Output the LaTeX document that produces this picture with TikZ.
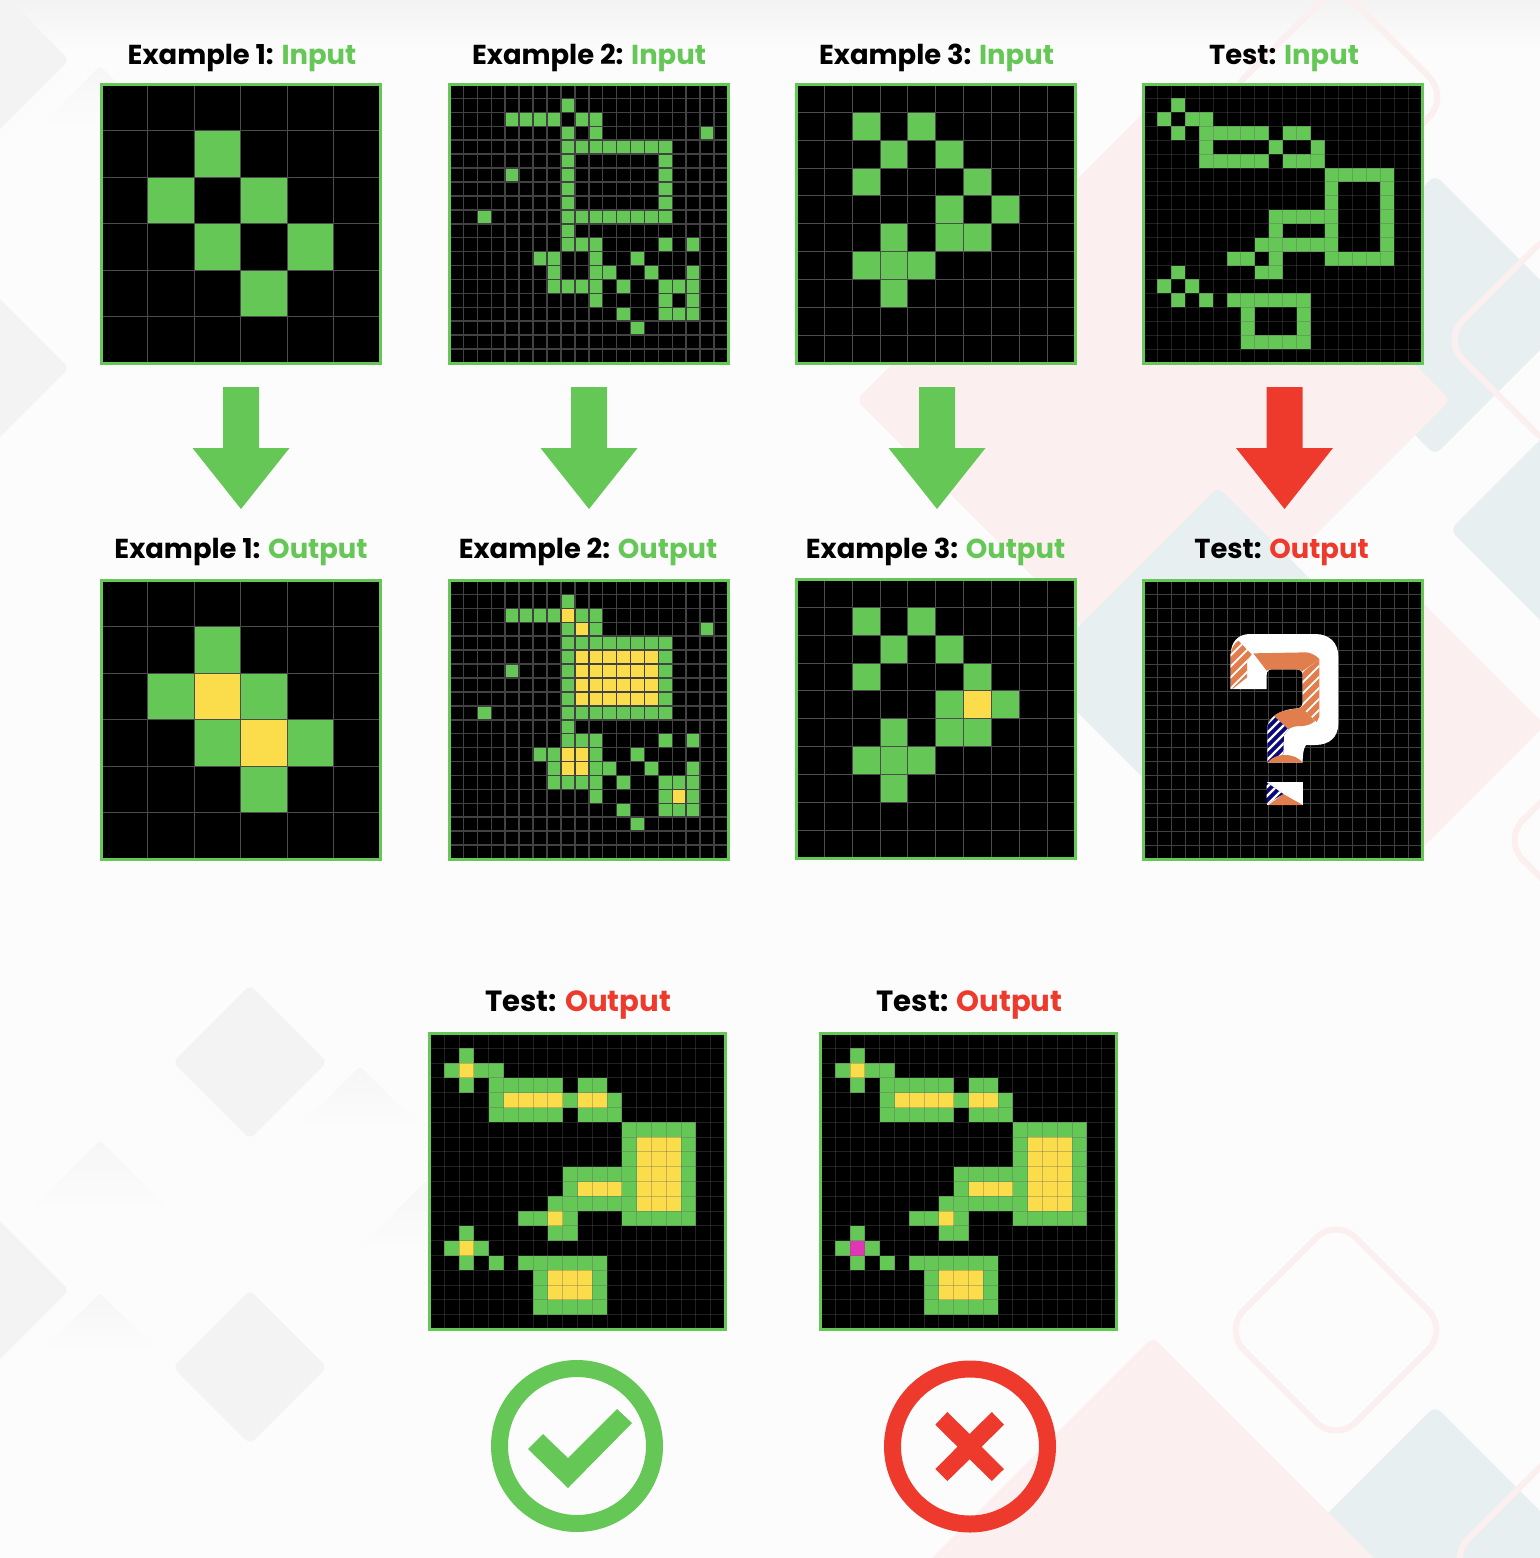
\documentclass[tikz,border=0pt]{standalone}
\usepackage{fontspec}
\setmainfont{Poppins}
\definecolor{gridgreen}{HTML}{65C756}
\definecolor{gridyellow}{HTML}{FBDC4A}
\definecolor{gridred}{HTML}{EE3A2D}
\definecolor{gridmagenta}{HTML}{E035B5}
\definecolor{markorange}{HTML}{E07F4D}
\definecolor{marknavy}{HTML}{0A0A7A}
\definecolor{pagebg}{HTML}{FCFCFC}
\definecolor{softgray}{HTML}{F3F3F3}
\definecolor{softpink}{HTML}{FBEFEF}
\definecolor{softblue}{HTML}{E8EFF1}
\tikzset{
	titlelabel/.style={anchor=base,font=\fontsize{13.7}{16}\selectfont\bfseries},
	bigtitle/.style={anchor=base,font=\fontsize{14.6}{17}\selectfont\bfseries},
	boardframe/.style={draw=gridgreen,line width=1.5pt},
	coarseline/.style={draw=black!70,line width=0.55pt},
	denseline/.style={draw=black!74,line width=0.75pt},
	fineline/.style={draw=black!75,line width=0.5pt},
	paleline/.style={draw=black!62,draw opacity=0.35,line width=0.5pt},
	graydiamond/.style={fill=softgray,rounded corners=3pt},
	pinkdiamond/.style={fill=softpink,rounded corners=4pt},
	bluediamond/.style={fill=softblue,rounded corners=4pt},
	ringdiamond/.style={draw=softpink,line width=3pt,rounded corners=14pt},
	signring/.style={line width=8.5pt}
}
% s = board size, n = cells per side
\newcommand{\gridcells}[4]{%
	\pgfmathsetmacro\cellw{#1/#2}
	\edef\celllist{#4}
	\foreach \rowi/\cols in \celllist {
		\foreach \coli in \cols {
			\fill[#3] ({\coli*\cellw},{\rowi*\cellw}) rectangle ++(\cellw,\cellw);
		}
	}
}
\newcommand{\gridlines}[3]{%
	\pgfmathsetmacro\cellw{#1/#2}
	\pgfmathtruncatemacro\lastline{#2-1}
	\foreach \i in {1,...,\lastline} {
		\draw[#3] ({\i*\cellw},0) -- ({\i*\cellw},#1);
		\draw[#3] (0,{\i*\cellw}) -- (#1,{\i*\cellw});
	}
	\draw[boardframe] (0,0) rectangle (#1,#1);
}
\newcommand{\softdiamond}[4]{\path[#4] ({#1-#3},#2) -- (#1,{#2-#3}) -- ({#1+#3},#2) -- (#1,{#2+#3}) -- cycle;}
\newcommand{\fadepeak}[3]{\shade[top color=softgray!70!pagebg,bottom color=pagebg,rounded corners=2pt] (#1,#2) -- ({#1+#3},{#2+#3}) -- ({#1-#3},{#2+#3}) -- cycle;}
\newcommand{\blockarrow}[2]{\fill[#2] ({#1-18},387) -- ({#1+18},387) -- ({#1+18},448) -- ({#1+48.5},448) -- (#1,509) -- ({#1-48.5},448) -- ({#1-18},448) -- cycle;}
\newcommand{\hatchpatch}[4]{%
	\begin{scope}
		\clip #1;
		\fill[#2] (0,0) rectangle (520,600);
		\foreach \d in {0,#3,...,1100} {
			\draw[white,line width=#4] (0,\d) -- (\d,0);
		}
	\end{scope}
}
\newcommand{\exaOneCells}{1/{2},2/{1,3},3/{2,4},4/{3}}
\newcommand{\exaTwoCells}{1/{8},2/{4,5,6,7,9,10},3/{8,10,18},4/{8,...,15},5/{8,15},6/{4,8,15},7/{8,15},8/{8,15},9/{2,8,9,10,11,12,13,14,15},10/{8},11/{8,9,10,15,17},12/{6,7,10,13},13/{7,10,11,14,17},14/{7,8,9,10,12,15,16,17},15/{10,15,17},16/{12,15,16,17},17/{13}}
\newcommand{\exaThreeCells}{1/{2,4},2/{3,5},3/{2,6},4/{5,7},5/{3,5,6},6/{2,3,4},7/{3}}
\newcommand{\testCells}{1/{2},2/{1,3,4},3/{2,4,5,6,7,8,10,11},4/{4,9,12},5/{4,5,6,7,8,10,11,12},6/{13,...,17},7/{13,17},8/{13,17},9/{9,10,11,12,13,17},10/{9,13,17},11/{8,9,10,11,12,13,17},12/{6,7,9,13,14,15,16,17},13/{2,8,9},14/{1,3},15/{2,4,6,7,8,9,10,11},16/{7,11},17/{7,11},18/{7,...,11}}
\newcommand{\testYellow}{2/{2},4/{5,6,7,8,10,11},7/{14,15,16},8/{14,15,16},9/{14,15,16},10/{10,11,12,14,15,16},11/{14,15,16},12/{8},16/{8,9,10},17/{8,9,10}}
\begin{document}
\begin{tikzpicture}[x=0.5pt,y=-0.5pt]
	\useasboundingbox (0,0) rectangle (1540,1558);
	\fill[pagebg] (0,0) rectangle (1540,1558);

	% background
	\begin{scope}
		\clip (0,0) rectangle (1540,1558);
		\shade[top color=softgray,bottom color=pagebg] (0,0) rectangle (1540,50);
		\softdiamond{-8}{60}{77}{graydiamond}
		\softdiamond{-8}{368}{77}{graydiamond}
		\softdiamond{-8}{1290}{77}{graydiamond}
		\softdiamond{250}{1062}{77}{graydiamond}
		\softdiamond{250}{1367}{77}{graydiamond}
		\fadepeak{100}{66}{60}
		\fadepeak{100}{1140}{70}
		\fadepeak{100}{1293}{57}
		\fadepeak{360}{1066}{63}
		\fadepeak{427}{1180}{70}
		\softdiamond{1435}{315}{140}{bluediamond}
		\softdiamond{1590}{530}{140}{bluediamond}
		\softdiamond{1153}{400}{297}{pinkdiamond}
		\softdiamond{1218}{670}{183}{bluediamond}
		\softdiamond{1410}{725}{135}{pinkdiamond}
		\softdiamond{1435}{1546}{140}{bluediamond}
		\softdiamond{1153}{1634}{297}{pinkdiamond}
		\softdiamond{1337}{97}{112}{ringdiamond}
		\softdiamond{1555}{340}{112}{ringdiamond}
		\softdiamond{1336}{1330}{112}{ringdiamond}
		\softdiamond{1615}{840}{112}{ringdiamond}
		\softdiamond{1560}{1559}{112}{ringdiamond}
	\end{scope}

	\node[titlelabel] (titleOneIn) at (242,64) {Example 1: \textcolor{gridgreen}{Input}};
	\node[titlelabel] (titleTwoIn) at (589,64) {Example 2: \textcolor{gridgreen}{Input}};
	\node[titlelabel] (titleThreeIn) at (936.5,64) {Example 3: \textcolor{gridgreen}{Input}};
	\node[titlelabel] (titleTestIn) at (1284,64) {Test: \textcolor{gridgreen}{Input}};
	\node[titlelabel] (titleOneOut) at (241,558) {Example 1: \textcolor{gridgreen}{Output}};
	\node[titlelabel] (titleTwoOut) at (588,558) {Example 2: \textcolor{gridgreen}{Output}};
	\node[titlelabel] (titleThreeOut) at (935.5,558) {Example 3: \textcolor{gridgreen}{Output}};
	\node[titlelabel] (titleTestOut) at (1281.5,558) {Test: \textcolor{gridred}{Output}};
	\node[bigtitle] (titleRight) at (578,1011.5) {Test: \textcolor{gridred}{Output}};
	\node[bigtitle] (titleWrong) at (969.5,1011.5) {Test: \textcolor{gridred}{Output}};

	\blockarrow{241}{gridgreen}
	\blockarrow{589}{gridgreen}
	\blockarrow{937}{gridgreen}
	\blockarrow{1284.5}{gridred}

	% inputs
	\begin{scope}[shift={(101.5,84.5)}]
		\fill[black] (0,0) rectangle (278.5,278.5);
		\gridcells{278.5}{6}{gridgreen}{\exaOneCells}
		\gridlines{278.5}{6}{coarseline}
	\end{scope}
	\begin{scope}[shift={(449.5,84.5)}]
		\fill[black] (0,0) rectangle (278.5,278.5);
		\gridcells{278.5}{20}{gridgreen}{\exaTwoCells}
		\gridlines{278.5}{20}{denseline}
	\end{scope}
	\begin{scope}[shift={(796.5,84.5)}]
		\fill[black] (0,0) rectangle (278.5,278.5);
		\gridcells{278.5}{10}{gridgreen}{\exaThreeCells}
		\gridlines{278.5}{10}{coarseline}
	\end{scope}
	\begin{scope}[shift={(1143.5,84.5)}]
		\fill[black] (0,0) rectangle (278.5,278.5);
		\gridcells{278.5}{20}{gridgreen}{\testCells}
		\gridlines{278.5}{20}{paleline}
	\end{scope}

	% outputs
	\begin{scope}[shift={(101.5,580.5)}]
		\fill[black] (0,0) rectangle (278.5,278.5);
		\gridcells{278.5}{6}{gridgreen}{\exaOneCells}
		\gridcells{278.5}{6}{gridyellow}{2/{2},3/{3}}
		\gridlines{278.5}{6}{coarseline}
	\end{scope}
	\begin{scope}[shift={(449.5,580.5)}]
		\fill[black] (0,0) rectangle (278.5,278.5);
		\gridcells{278.5}{20}{gridgreen}{\exaTwoCells}
		\gridcells{278.5}{20}{gridyellow}{2/{8},3/{9},5/{9,...,14},6/{9,...,14},7/{9,...,14},8/{9,...,14},12/{8,9},13/{8,9},15/{16}}
		\gridlines{278.5}{20}{denseline}
	\end{scope}
	\begin{scope}[shift={(796.5,579.5)}]
		\fill[black] (0,0) rectangle (278.5,278.5);
		\gridcells{278.5}{10}{gridgreen}{\exaThreeCells}
		\gridcells{278.5}{10}{gridyellow}{4/{6}}
		\gridlines{278.5}{10}{coarseline}
	\end{scope}
	\begin{scope}[shift={(1143.5,580.5)}]
		\fill[black] (0,0) rectangle (278.5,278.5);
		\gridlines{278.5}{20}{fineline}
	\end{scope}

	% question mark
	\begin{scope}[shift={(1200,620)},x=0.16667pt,y=-0.16667pt]
		\fill[white] (92,207) -- (92,105) .. controls (92,65) and (115,42) .. (150,42) -- (345,42) .. controls (390,42) and (415,70) .. (415,110) -- (415,310) .. controls (415,350) and (390,375) .. (345,375) -- (318,375) .. controls (310,385) and (308,405) .. (308,428) -- (202,428) -- (202,320) .. controls (205,295) and (235,268) .. (295,265) .. controls (303,263) and (308,258) .. (308,250) -- (308,165) .. controls (308,155) and (300,148) .. (290,148) -- (215,148) .. controls (205,148) and (200,155) .. (200,165) -- (200,207) -- cycle;
		\hatchpatch{(92,207) -- (92,100) .. controls (95,85) and (103,70) .. (115,62) -- (155,103) -- (141,122) -- (141,172) -- (100,205) -- cycle}{markorange}{33}{0.9pt}
		\fill[markorange] (160,100) -- (320,97) .. controls (338,100) and (350,108) .. (358,118) -- (305,155) .. controls (302,150) and (296,148) .. (290,148) -- (215,148) .. controls (208,148) and (203,150) .. (200,152) -- cycle;
		\hatchpatch{(358,118) -- (358,290) -- (350,306) -- (302,262) .. controls (306,260) and (308,255) .. (308,250) -- (308,155) -- cycle}{markorange}{33}{0.9pt}
		\fill[markorange] (222,288) .. controls (240,272) and (270,268) .. (295,265) -- (305,262) -- (345,303) .. controls (335,312) and (320,318) .. (305,318) .. controls (290,318) and (275,320) .. (265,328) -- cycle;
		\hatchpatch{(222,288) -- (265,328) -- (252,345) -- (250,402) -- (202,428) -- (202,320) .. controls (205,310) and (212,298) .. (222,288) -- cycle}{marknavy}{27}{1.1pt}
		\fill[markorange] (202,428) .. controls (220,408) and (240,405) .. (255,405) .. controls (280,405) and (298,415) .. (308,428) -- cycle;
		\fill[white] (200,487) rectangle (308,555);
		\fill[markorange] (250,522) -- (308,555) -- (205,555) -- cycle;
		\hatchpatch{(200,487) -- (250,522) -- (200,552) -- cycle}{marknavy}{27}{1.1pt}
	\end{scope}

	% candidate answers
	\begin{scope}[shift={(429.5,1033.5)}]
		\fill[black] (0,0) rectangle (296,295);
		\gridcells{296}{20}{gridgreen}{\testCells}
		\gridcells{296}{20}{gridyellow}{\testYellow}
		\gridcells{296}{20}{gridyellow}{14/{2}}
		\gridlines{296}{20}{paleline}
	\end{scope}
	\begin{scope}[shift={(820.5,1033.5)}]
		\fill[black] (0,0) rectangle (296,295);
		\gridcells{296}{20}{gridgreen}{\testCells}
		\gridcells{296}{20}{gridyellow}{\testYellow}
		\gridcells{296}{20}{gridmagenta}{14/{2}}
		\gridlines{296}{20}{paleline}
	\end{scope}

	\draw[signring,draw=gridgreen] (577,1446) circle (77.5);
	\fill[gridgreen] (528,1449) -- (543,1434) -- (568,1458) -- (617,1409) -- (632,1423) -- (568,1488) -- cycle;
	\draw[signring,draw=gridred] (970,1446.5) circle (77.5);
	\fill[gridred] (947.4,1412) -- (969.6,1434) -- (991.8,1412) -- (1004,1424.7) -- (981.6,1446.7) -- (1004,1469) -- (991.8,1481) -- (969.6,1459.3) -- (947.4,1481) -- (935.3,1469) -- (957.5,1446.7) -- (935.3,1424.7) -- cycle;
\end{tikzpicture}
\end{document}
